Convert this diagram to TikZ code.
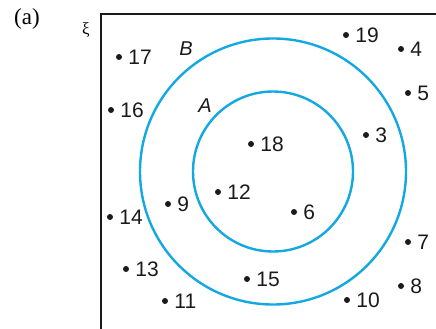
\documentclass[tikz,border=0pt]{standalone}
\usepackage{fontspec}
\setmainfont{Liberation Serif}
\setsansfont{Liberation Sans}
\definecolor{SetBlue}{HTML}{14A8E2}
\definecolor{DotBlack}{HTML}{1A1A1A}
\usetikzlibrary{positioning}

\begin{document}
\begin{tikzpicture}[
  x=1pt, y=-1pt,
  dot/.style={circle, fill=DotBlack, inner sep=0pt, minimum size=6pt},
  num/.style={font=\sffamily\fontsize{21}{21}\selectfont, text=DotBlack, inner sep=0pt},
  setname/.style={font=\sffamily\itshape\fontsize{20}{20}\selectfont, text=DotBlack, inner sep=0pt},
  ring/.style={circle, draw=SetBlue, line width=2.4pt, inner sep=0pt},
  frame/.style={draw=DotBlack, line width=1.6pt},
]
  \useasboundingbox (0,0) rectangle (436,329);
  \clip (0,0) rectangle (436,329);

  % universe frame, running past the edges
  \coordinate (ucorner) at (101,14);
  \draw[frame] (101,360) -- (ucorner) -- (470,14);
  \node[font=\fontsize{23}{23}\selectfont, inner sep=0pt] (tag) at (27,19) {(a)};
  \node[font=\fontsize{17}{17}\selectfont, inner sep=0pt] (univ) at (86,30) {ξ};

  % the two sets
  \node[ring, minimum size=266pt] (setB) at (273,171.5) {};
  \node[ring, minimum size=160pt] (setA) at (273,171.5) {};
  \node[setname] (lblB) at (186,48.5) {B};
  \node[setname] (lblA) at (205,106) {A};

  % elements
  \node[dot] (p17) at (119,57) {};  \node[num, right=6pt of p17] (n17) {17};
  \node[dot] (p16) at (111,110) {}; \node[num, right=6pt of p16] (n16) {16};
  \node[dot] (p19) at (346,35) {};  \node[num, right=6pt of p19] (n19) {19};
  \node[dot] (p4)  at (401,49) {};  \node[num, right=6pt of p4]  (n4)  {4};
  \node[dot] (p5)  at (408,93) {};  \node[num, right=6pt of p5]  (n5)  {5};
  \node[dot] (p3)  at (366,135) {}; \node[num, right=6pt of p3]  (n3)  {3};
  \node[dot] (p18) at (251,144) {}; \node[num, right=6pt of p18] (n18) {18};
  \node[dot] (p12) at (218,192) {}; \node[num, right=6pt of p12] (n12) {12};
  \node[dot] (p9)  at (168,204) {}; \node[num, right=6pt of p9]  (n9)  {9};
  \node[dot] (p6)  at (294,212) {}; \node[num, right=6pt of p6]  (n6)  {6};
  \node[dot] (p14) at (110,217) {}; \node[num, right=6pt of p14] (n14) {14};
  \node[dot] (p7)  at (408,242) {}; \node[num, right=6pt of p7]  (n7)  {7};
  \node[dot] (p13) at (126,269) {}; \node[num, right=6pt of p13] (n13) {13};
  \node[dot] (p15) at (247,279) {}; \node[num, right=6pt of p15] (n15) {15};
  \node[dot] (p8)  at (401,286) {}; \node[num, right=6pt of p8]  (n8)  {8};
  \node[dot] (p11) at (165,301) {}; \node[num, right=6pt of p11] (n11) {11};
  \node[dot] (p10) at (347,300) {}; \node[num, right=6pt of p10] (n10) {10};
\end{tikzpicture}
\end{document}
